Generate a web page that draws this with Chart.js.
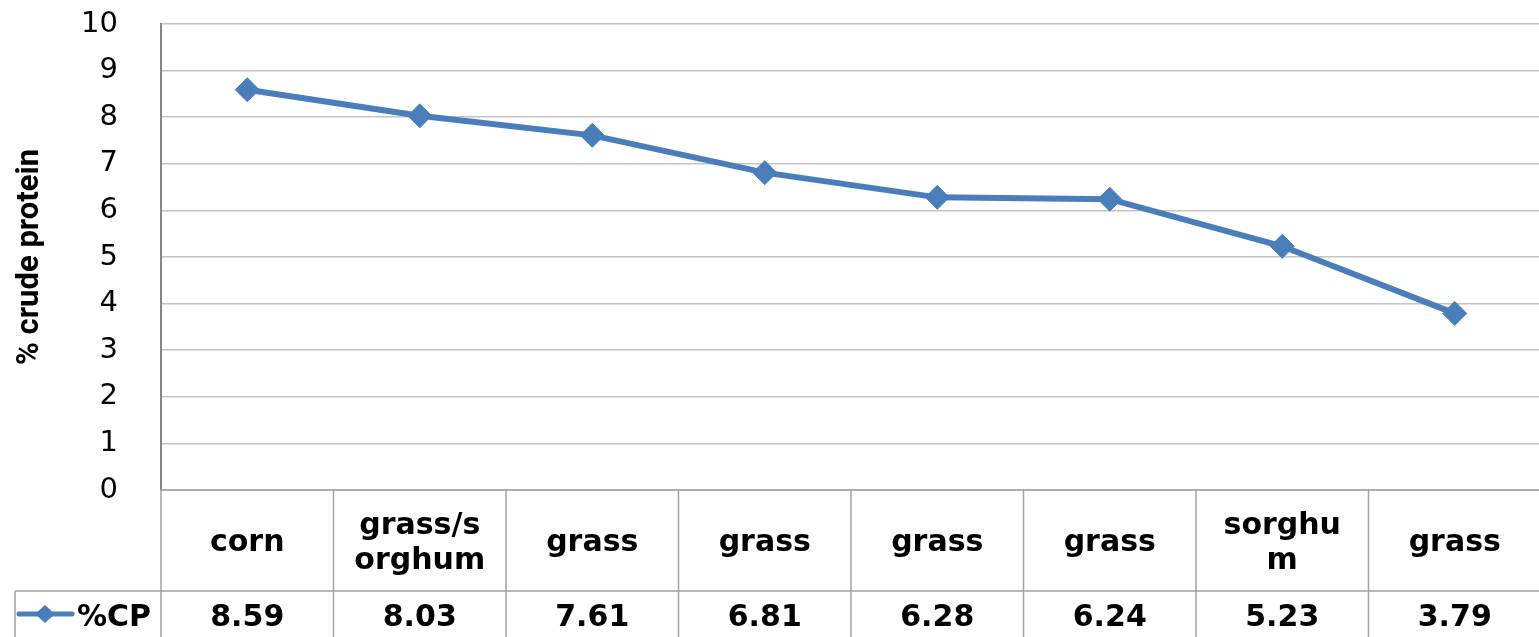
<!DOCTYPE html>
<html>
<head>
<meta charset="utf-8">
<script src="https://cdn.jsdelivr.net/npm/chart.js@4.4.0/dist/chart.umd.min.js"></script>
<style>
  html, body { margin: 0; padding: 0; background: #fff; overflow: hidden; }
  #container { width: 1539px; height: 637px; overflow: hidden; }
  canvas { display: block; }
</style>
</head>
<body>
<div id="container"><canvas id="canvas" width="1541" height="637"></canvas></div>
<script>
"use strict";

// 데이터
const aCategories = ["corn", "grass/sorghum", "grass", "grass", "grass", "grass", "sorghum", "grass"];
const aCpValues = [8.59, 8.03, 7.61, 6.81, 6.28, 6.24, 5.23, 3.79];
const aYTicks = [0, 1, 2, 3, 4, 5, 6, 7, 8, 9, 10];
const sSeriesName = "%CP";
const sYTitle = "% crude protein";

// 스타일
const sLineColor = "#4a7ebb";
const sGridColor = "#c4c4c4";
const sTableLine = "#a3a3a3";
const sFont = "'DejaVu Sans', Verdana, sans-serif";
const sTitleFont = "Roboto, 'DejaVu Sans Condensed', sans-serif";

/**
 * 셀 폭에 맞춰 글자 단위 줄바꿈 (엑셀 데이터 테이블처럼)
 */
function _wrapText(ctx, sText, iMaxWidth) {
    let aLines = [];
    let sLine = "";
    for (const ch of sText) {
        if (sLine && ctx.measureText(sLine + ch).width > iMaxWidth) {
            aLines.push(sLine);
            sLine = ch;
        } else {
            sLine += ch;
        }
    }
    if (sLine) aLines.push(sLine);
    return aLines;
}

// 차트 아래 데이터 테이블
const oDataTablePlugin = {
    id: "dataTable",
    afterDraw: function (oChart) {
        const ctx = oChart.ctx;
        const oArea = oChart.chartArea;
        const oX = oChart.scales.x;
        const iColWidth = (oX.right - oX.left) / aCategories.length;
        const iTop = oArea.bottom;
        const iMid = iTop + 101;
        const iBottom = oChart.height;
        const iLegendLeft = 15;

        ctx.save();

        // 테이블 선
        ctx.strokeStyle = sTableLine;
        ctx.lineWidth = 1.5;
        ctx.beginPath();
        ctx.moveTo(oArea.left, iTop);
        ctx.lineTo(oX.right, iTop);
        ctx.moveTo(iLegendLeft, iMid);
        ctx.lineTo(oX.right, iMid);
        ctx.moveTo(iLegendLeft, iMid);
        ctx.lineTo(iLegendLeft, iBottom);
        for (let i = 0; i <= aCategories.length; i++) {
            let x = oX.left + i * iColWidth;
            ctx.moveTo(x, iTop);
            ctx.lineTo(x, iBottom);
        }
        ctx.stroke();

        // 카테고리 / 값
        ctx.fillStyle = "#000";
        ctx.font = "bold 30px " + sFont;
        ctx.textAlign = "center";
        ctx.textBaseline = "alphabetic";
        aCategories.forEach(function (sCat, i) {
            let x = oX.getPixelForValue(i);
            let aLines = _wrapText(ctx, sCat, 136);
            let iFirst = 551 - (aLines.length - 1) * 35 / 2;
            aLines.forEach(function (sLine, j) {
                ctx.fillText(sLine, x, iFirst + j * 35);
            });
            ctx.fillText(aCpValues[i].toFixed(2), x, 626);
        });

        // 범례 (선 + 마커 + 이름)
        let iLy = 614;
        ctx.strokeStyle = sLineColor;
        ctx.lineWidth = 5;
        ctx.lineCap = "round";
        ctx.beginPath();
        ctx.moveTo(19, iLy);
        ctx.lineTo(72, iLy);
        ctx.stroke();
        ctx.fillStyle = sLineColor;
        ctx.beginPath();
        ctx.moveTo(45, iLy - 9);
        ctx.lineTo(55, iLy);
        ctx.lineTo(45, iLy + 9);
        ctx.lineTo(35, iLy);
        ctx.closePath();
        ctx.fill();

        ctx.fillStyle = "#000";
        ctx.textAlign = "left";
        ctx.fillText(sSeriesName, 77, 626);

        ctx.restore();
    }
};

const ctx = document.getElementById("canvas").getContext("2d");
const oChart = new Chart(ctx, {
    type: "line",
    plugins: [oDataTablePlugin],
    data: {
        labels: aCategories,
        datasets: [
            {
                label: sSeriesName,
                data: aCpValues,
                borderColor: sLineColor,
                backgroundColor: sLineColor,
                borderWidth: 6,
                tension: 0,
                fill: false,
                pointStyle: "rectRot",
                pointRadius: 12,
                pointBorderWidth: 1,
                pointBackgroundColor: sLineColor,
                pointBorderColor: sLineColor
            }
        ]
    },
    options: {
        responsive: false,
        devicePixelRatio: 1,
        animation: false,
        layout: {
            autoPadding: false,
            padding: { top: 24, right: 0, bottom: 147, left: 0 }
        },
        plugins: {
            legend: { display: false },
            tooltip: { enabled: false }
        },
        scales: {
            x: {
                display: false,
                offset: true
            },
            y: {
                min: aYTicks[0],
                max: aYTicks[aYTicks.length - 1],
                afterBuildTicks: function (oScale) {
                    oScale.ticks = aYTicks.map(function (v) { return { value: v }; });
                },
                afterFit: function (oScale) {
                    // 축 폭 고정, tick padding 이 위쪽 여백으로 번지지 않게
                    oScale.width = 161;
                    oScale.paddingTop = 0;
                    oScale.paddingBottom = 0;
                },
                grid: {
                    color: sGridColor,
                    lineWidth: 1.5,
                    drawTicks: false
                },
                border: {
                    color: "#878787",
                    width: 2
                },
                ticks: {
                    color: "#000",
                    padding: 43,
                    font: { family: sFont, size: 29 }
                },
                title: {
                    display: true,
                    text: sYTitle,
                    color: "#000",
                    padding: { top: 12, bottom: 0 },
                    font: { family: sTitleFont, size: 31, weight: "bold" }
                }
            }
        }
    }
});
</script>
</body>
</html>
